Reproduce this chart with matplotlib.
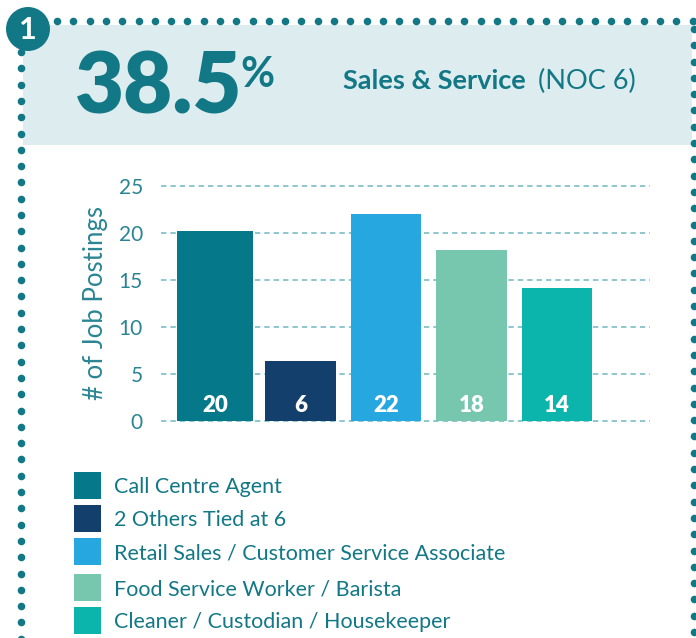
import numpy as np
import matplotlib
matplotlib.use("Agg")
import matplotlib.pyplot as plt
from matplotlib.patches import Rectangle, Circle

plt.rcParams['font.family'] = ['Lato', 'DejaVu Sans']

# data
categories = ["Call Centre Agent", "2 Others Tied at 6",
              "Retail Sales / Customer Service Associate",
              "Food Service Worker / Barista",
              "Cleaner / Custodian / Housekeeper"]
heights = [20.2, 6.4, 22.0, 18.2, 14.1]
labels = ["20", "6", "22", "18", "14"]
colors = ["#05788a", "#133f6d", "#27a7df", "#76c7ae", "#0cb5ab"]
yticks = [0, 5, 10, 15, 20, 25]

teal = "#137886"
W, H = 696, 638
fig = plt.figure(figsize=(W / 100, H / 100), dpi=100)

# background layer in pixel coords
bg = fig.add_axes([0, 0, 1, 1], zorder=0)
bg.set_xlim(0, W)
bg.set_ylim(H, 0)
bg.axis('off')

bg.add_patch(Rectangle((23, 25), 669, 120, color="#ddecef", lw=0))

# dotted frame
step = 16.3
top_x = np.arange(57, W, step)
bg.scatter(top_x, np.full(len(top_x), 21), s=30, color=teal, lw=0)
left_y = np.arange(52, H + 5, step)
bg.scatter(np.full(len(left_y), 20.5), left_y, s=30, color=teal, lw=0)
right_y = np.arange(29, H + 5, step)
bg.scatter(np.full(len(right_y), 694), right_y, s=30, color=teal, lw=0, clip_on=False)

bg.add_patch(Circle((28, 29), 22, color=teal, lw=0))
bg.text(28, 30, "1", color="white", fontsize=22, fontweight='bold',
        ha='center', va='center')

bg.text(75, 113, "38.5", color=teal, fontsize=61, fontweight='heavy',
        ha='left', va='baseline')
bg.text(240, 87, "%", color=teal, fontsize=30, fontweight='bold',
        ha='left', va='baseline')
bg.text(343, 89, "Sales & Service", color=teal, fontsize=19.5,
        fontweight='bold', ha='left', va='baseline')
bg.text(538, 89, "(NOC 6)", color=teal, fontsize=19.5,
        ha='left', va='baseline')

# legend
for i, (cat, col) in enumerate(zip(categories, colors)):
    y0 = [472, 505, 538, 574, 607][i]
    bg.add_patch(Rectangle((74, y0), 27, 27, color=col, lw=0))
    bg.text(114, y0 + 15, cat, color=teal, fontsize=15.5,
            ha='left', va='center')

# bar chart
x0, x1 = 161, 650
yb, yt = 420.7, 185.7
ax = fig.add_axes([x0 / W, (H - yb) / H, (x1 - x0) / W, (yb - yt) / H], zorder=2)
ax.patch.set_alpha(0)
pos = np.arange(len(heights))
widths = [0.89, 0.82, 0.82, 0.82, 0.82]
bars = ax.bar(pos, heights, width=widths, color=colors, zorder=3)
for b, lab in zip(bars, labels):
    ax.text(b.get_x() + b.get_width() / 2, 1.65, lab, color="white",
            fontsize=16, fontweight='heavy', ha='center', va='center', zorder=4)

ax.set_xlim((x0 - 215) / 85.5, (x1 - 215) / 85.5)
ax.set_ylim(0, 25)
for yv in yticks:
    ax.axhline(yv, color="#86c3cb", lw=1.3, ls=(0, (3, 2.2)), zorder=1, clip_on=False)
ax.set_yticks(yticks)
ax.set_yticklabels([str(v) for v in yticks], color="#2a8593", fontsize=15)
ax.tick_params(axis='y', length=0, pad=13)
ax.set_xticks([])
for s in ax.spines.values():
    s.set_visible(False)
ax.set_ylabel("# of Job Postings", color="#2a8593", fontsize=18.5, labelpad=8)

fig.savefig("out.png", dpi=100)
